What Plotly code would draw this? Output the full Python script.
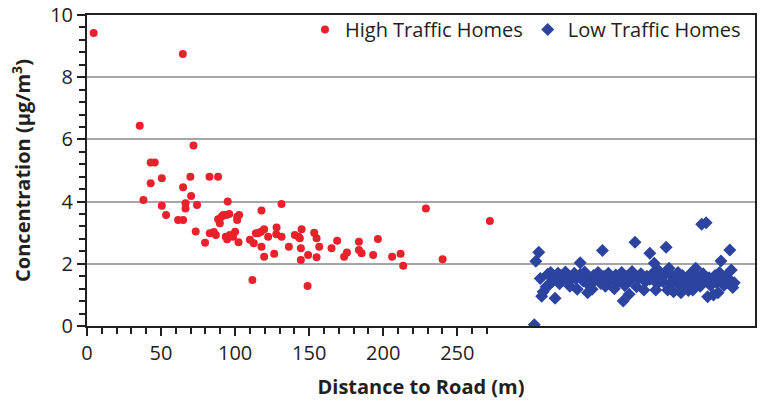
import plotly.graph_objects as go

# ---- data ----
high_x = [4.5, 64.7, 35.6, 71.9, 43.0, 45.7, 43.0, 50.5, 69.8, 82.7, 88.5, 64.9, 70.3, 38.1,
          95.0, 50.5, 66.5, 66.5, 74.3, 53.4, 61.5, 64.9, 73.4, 79.7, 82.9, 85.6, 87.0, 88.5,
          90.8, 89.7, 92.0, 94.2, 96.0, 93.7, 96.4, 98.6, 100.0, 94.6, 101.4, 102.7, 101.4,
          102.3, 110.0, 112.6, 111.7, 114.0, 115.5, 117.8, 117.8, 117.4, 119.6, 119.6, 122.3,
          128.0, 127.8, 131.4, 131.3, 126.4, 136.3, 140.3, 142.8, 144.9, 143.7, 144.4, 144.4,
          148.9, 149.3, 153.4, 155.0, 156.8, 155.0, 165.1, 168.9, 173.6, 175.5, 183.6, 183.6,
          185.4, 196.4, 193.2, 206.0, 211.7, 213.5, 228.8, 240.1, 272.0]
high_y = [9.42, 8.75, 6.44, 5.80, 5.26, 5.26, 4.59, 4.75, 4.80, 4.80, 4.80, 4.46, 4.18, 4.05,
          4.00, 3.87, 3.95, 3.78, 3.89, 3.57, 3.41, 3.41, 3.04, 2.68, 2.98, 3.02, 2.93, 3.43,
          3.51, 3.30, 3.57, 3.57, 3.60, 2.87, 2.93, 2.87, 3.03, 2.79, 3.51, 3.57, 3.41,
          2.69, 2.77, 2.66, 1.48, 2.98, 2.98, 3.71, 2.55, 3.03, 3.11, 2.23, 2.87,
          3.17, 2.95, 2.87, 3.92, 2.32, 2.55, 2.93, 2.87, 3.11, 2.82, 2.50, 2.12,
          1.29, 2.28, 3.00, 2.82, 2.55, 2.21, 2.50, 2.74, 2.23, 2.36, 2.71, 2.44,
          2.34, 2.80, 2.28, 2.23, 2.32, 1.94, 3.78, 2.15, 3.38]

low_x = [302, 303, 305, 306, 307, 308, 310, 311, 312, 313, 314, 316, 316, 318, 319, 320, 322,
         323, 325, 326, 328, 329, 330, 331, 333, 333, 335, 336, 337, 338, 339, 341, 342, 343,
         345, 346, 347, 348, 349, 350, 352, 353, 354, 356, 357, 358, 360, 361, 362, 363, 364,
         366, 367, 368, 370, 370, 371, 373, 374, 376, 377, 378, 380, 380, 382, 383, 384, 385,
         386, 387, 389, 390, 391, 392, 393, 394, 395, 396, 398, 399, 400, 401, 402, 403, 405,
         406, 407, 408, 409, 410, 411, 412, 414, 415, 416, 417, 418, 419, 420, 421, 423, 424,
         425, 426, 427, 428, 429, 430, 431, 433, 434, 434, 435, 436, 437]
low_y = [0.04, 2.08, 2.37, 1.53, 0.96, 1.10, 1.26, 1.66, 1.33, 1.72, 1.43, 0.89, 1.58, 1.70,
         1.36, 1.62, 1.50, 1.74, 1.45, 1.28, 1.60, 1.70, 1.52, 1.18, 2.03, 1.66, 1.45, 1.74,
         1.56, 1.07, 1.30, 1.18, 1.62, 1.48, 1.72, 1.66, 1.37, 2.43, 1.60, 1.28, 1.70, 1.46,
         1.55, 1.20, 1.64, 1.38, 1.52, 1.72, 0.80, 1.30, 1.58, 1.02, 1.48, 1.75, 2.69, 1.62,
         1.26, 1.55, 1.68, 1.16, 1.42, 1.60, 2.34, 1.50, 1.70, 2.02, 1.16, 1.36, 1.78, 1.55,
         1.42, 1.64, 2.53, 1.16, 1.86, 1.38, 1.60, 1.10, 1.50, 1.72, 1.32, 1.07, 1.62, 1.45,
         1.25, 1.14, 1.66, 1.50, 1.16, 1.35, 1.86, 1.58, 1.28, 3.27, 1.68, 1.45, 3.32, 0.94,
         1.55, 1.30, 1.00, 1.62, 1.40, 1.07, 1.72, 2.09, 1.48, 1.30, 1.60, 1.38, 2.44, 1.48,
         1.80, 1.24, 1.39]

x_major_ticks = [0, 50, 100, 150, 200, 250]
x_minor_ticks = [10, 20, 30, 40, 60, 70, 80, 90, 110, 120, 130, 140, 160, 170, 180, 190,
                 210, 220, 230, 240, 260, 270]
y_major_ticks = [0, 2, 4, 6, 8, 10]

FONT = "Open Sans"
INK = "#231F20"

fig = go.Figure()
fig.add_trace(go.Scatter(
    x=high_x, y=high_y, mode="markers", name="High Traffic Homes",
    marker=dict(symbol="circle", size=8, color="#E8212B"),
))
fig.add_trace(go.Scatter(
    x=low_x, y=low_y, mode="markers", name="Low Traffic Homes",
    marker=dict(symbol="diamond", size=10, color="#2C44A0"),
))

fig.update_layout(
    width=764, height=408,
    margin=dict(l=87, r=9, t=15, b=82, autoexpand=False),
    paper_bgcolor="white", plot_bgcolor="white",
    font=dict(family=FONT, color=INK),
    showlegend=True,
    legend=dict(
        orientation="h", x=0.9865, xanchor="right", y=1.016, yanchor="top",
        font=dict(size=20, family=FONT, color=INK),
        bgcolor="rgba(0,0,0,0)", itemwidth=30,
    ),
    xaxis=dict(
        range=[0, 451], showgrid=False, zeroline=False, automargin=False,
        showline=True, linecolor=INK, linewidth=2, mirror=True,
        tickmode="array", tickvals=x_major_ticks, ticktext=[str(v) for v in x_major_ticks],
        ticks="outside", ticklen=8, tickwidth=1.5, tickcolor=INK,
        ticklabeloverflow="allow",
        minor=dict(tickmode="array", tickvals=x_minor_ticks, ticks="outside",
                   ticklen=6, tickwidth=1.5, tickcolor=INK, showgrid=False),
        tickfont=dict(size=20, family=FONT, color=INK),
        title=dict(text="<b>Distance to Road (m)</b>",
                   font=dict(size=20, family=FONT, color=INK), standoff=15),
    ),
    yaxis=dict(
        range=[0, 10], showgrid=True, gridcolor="#A6A6A6", gridwidth=1.5, zeroline=False,
        automargin=False,
        showline=True, linecolor=INK, linewidth=2, mirror=True,
        tickmode="array", tickvals=y_major_ticks, ticktext=[str(v) for v in y_major_ticks],
        ticks="outside", ticklen=8, tickwidth=1.5, tickcolor=INK,
        ticklabeloverflow="allow",
        minor=dict(dtick=0.4, tick0=0, ticks="outside", ticklen=6, tickwidth=1.5,
                   tickcolor=INK, showgrid=False),
        tickfont=dict(size=20, family=FONT, color=INK),
        title=dict(text="<b>Concentration (µg/m<sup>3</sup>)</b>",
                   font=dict(size=20, family=FONT, color=INK), standoff=14),
    ),
)

# remove the browser's default 8px page margin so the figure fills the window exactly
fig.write_html("out.html", config={"displayModeBar": False},
               post_script="document.body.style.margin='0';")
